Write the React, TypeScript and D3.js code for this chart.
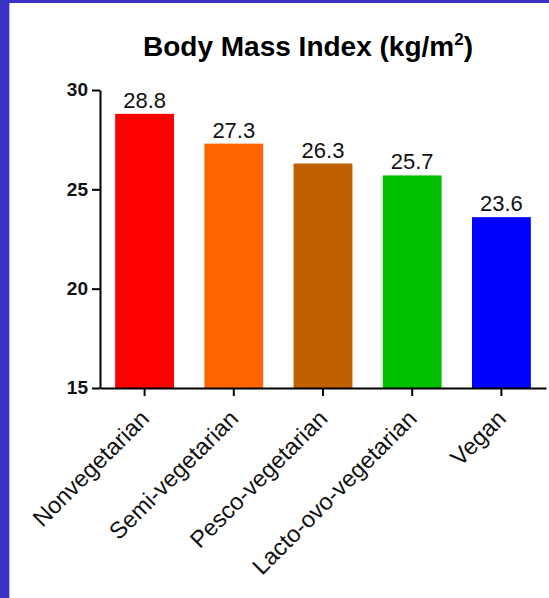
import * as d3 from "d3";
import { useEffect, useRef } from "react";

// data
const categories = ["Nonvegetarian", "Semi-vegetarian", "Pesco-vegetarian", "Lacto-ovo-vegetarian", "Vegan"];
const bmiValues = [28.8, 27.3, 26.3, 25.7, 23.6];
const barColors = ["#ff0000", "#ff6600", "#c06000", "#00c000", "#0000ff"];
const yTicks = [15, 20, 25, 30];

const W = 549;
const H = 598;
const FONT = "'Liberation Sans', Arial, Helvetica, sans-serif";

const App = () => {
    const chartRef = useRef<SVGSVGElement | null>(null);

    useEffect(() => {
        const svg = d3.select(chartRef.current);
        svg.selectAll("*").remove();

        // frame: blue border on the left and top
        svg.append("rect").attr("x", 0).attr("y", 0).attr("width", W).attr("height", H).style("fill", "#ffffff");
        svg.append("rect").attr("x", 0).attr("y", 0).attr("width", 9).attr("height", H).style("fill", "#3a31c9");
        svg.append("rect").attr("x", 0).attr("y", 0).attr("width", W).attr("height", 3).style("fill", "#3a31c9");
        svg.append("rect").attr("x", 9).attr("y", 3).attr("width", 1).attr("height", H).style("fill", "#b8b4f0");

        // plot area
        const left = 100, right = 546, top = 90, bottom = 388;

        const scaleX = d3.scaleBand<string>()
            .domain(categories)
            .range([left, right])
            .paddingInner(0.34)
            .paddingOuter(0.17);

        const scaleY = d3.scaleLinear()
            .domain([15, 30])
            .range([bottom, top]);

        // title
        const title = svg.append("text")
            .attr("x", 308)
            .attr("y", 56)
            .attr("text-anchor", "middle")
            .style("font-family", FONT)
            .style("font-size", "28px")
            .style("font-weight", "bold")
            .style("fill", "#000");
        title.append("tspan").text("Body Mass Index (kg/m");
        title.append("tspan").attr("dy", -11).style("font-size", "17px").text("2");
        title.append("tspan").attr("dy", 11).text(")");

        // bars
        svg.selectAll(".bar")
            .data(bmiValues)
            .enter()
            .append("rect")
            .attr("x", (d, i) => scaleX(categories[i])!)
            .attr("y", d => scaleY(d))
            .attr("width", scaleX.bandwidth())
            .attr("height", d => scaleY(15) - scaleY(d))
            .style("fill", (d, i) => barColors[i]);

        // value labels
        svg.selectAll(".val")
            .data(bmiValues)
            .enter()
            .append("text")
            .attr("x", (d, i) => scaleX(categories[i])! + scaleX.bandwidth() / 2)
            .attr("y", d => scaleY(d) - 6)
            .attr("text-anchor", "middle")
            .style("font-family", FONT)
            .style("font-size", "22px")
            .style("fill", "#111")
            .text(d => d.toFixed(1));

        // y axis
        const yAxis = d3.axisLeft(scaleY).tickValues(yTicks).tickSize(8).tickSizeOuter(0).tickPadding(4);
        const gy = svg.append("g")
            .attr("transform", `translate(${left}, 0)`)
            .call(yAxis);
        gy.select(".domain").attr("stroke", "#000").attr("stroke-width", 2);
        gy.selectAll(".tick line").attr("stroke", "#000").attr("stroke-width", 2);
        gy.selectAll(".tick text")
            .attr("dy", "0.3em")
            .style("font-family", FONT)
            .style("font-size", "19px")
            .style("font-weight", "bold")
            .style("fill", "#111");

        // x axis
        const xAxis = d3.axisBottom(scaleX).tickSize(8).tickSizeOuter(0).tickFormat(() => "");
        const gx = svg.append("g")
            .attr("transform", `translate(0, ${bottom})`)
            .call(xAxis);
        gx.select(".domain").attr("stroke", "#000").attr("stroke-width", 2);
        gx.selectAll(".tick line").attr("stroke", "#000").attr("stroke-width", 2);

        // rotated category labels
        svg.selectAll(".cat")
            .data(categories)
            .enter()
            .append("text")
            .attr("transform", d => `translate(${scaleX(d)! + scaleX.bandwidth() / 2 + 6}, 420) rotate(-45)`)
            .attr("text-anchor", "end")
            .style("font-family", FONT)
            .style("font-size", "23.5px")
            .style("fill", "#111")
            .text(d => d);
    }, []);

    return (
        <svg ref={chartRef} width={W} height={H} style={{ position: "absolute", left: 0, top: 0 }}></svg>
    );
};

export default App;
